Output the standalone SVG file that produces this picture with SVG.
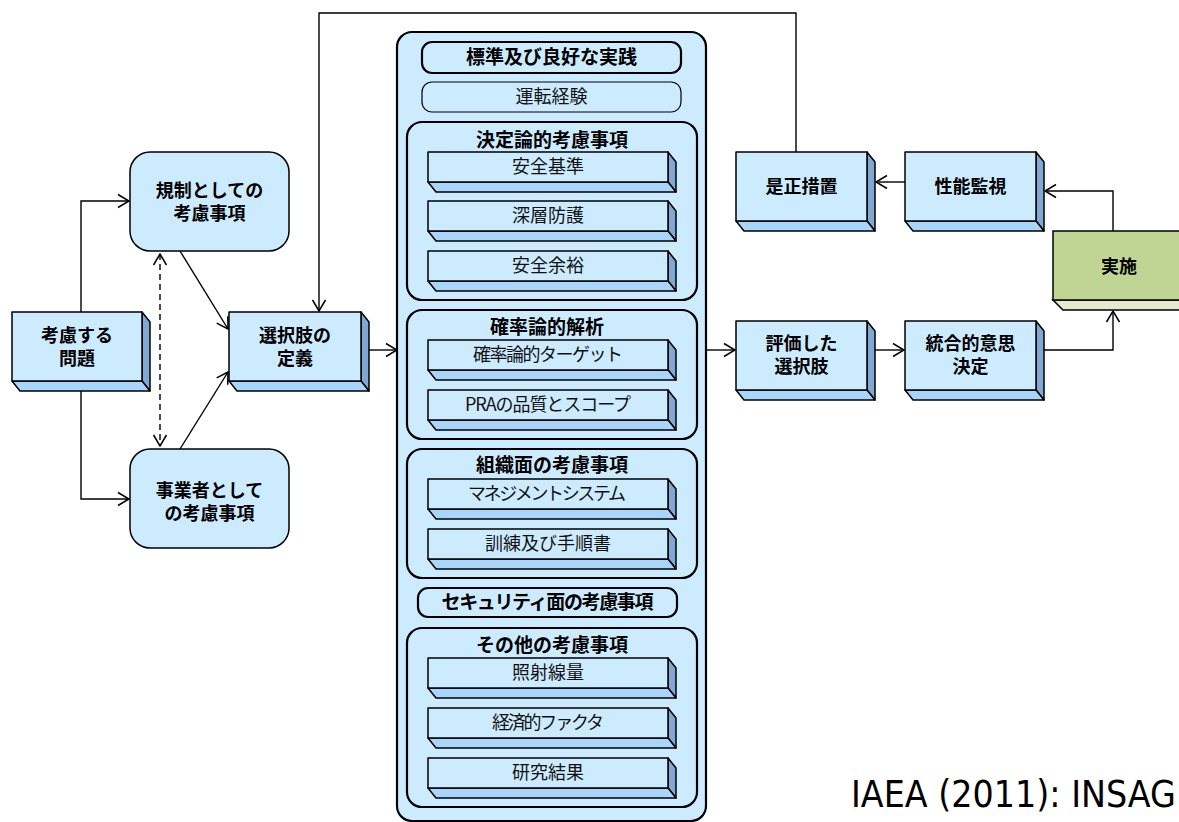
<svg xmlns="http://www.w3.org/2000/svg" width="1179" height="822" viewBox="0 0 1179 822">
  <defs>
    <style>
      .face { fill: #cdebff; stroke: #000; stroke-width: 1.5; stroke-linejoin: round; }
      .side { fill: #7fa8d2; stroke: #000; stroke-width: 1.5; stroke-linejoin: round; }
      .bottom { fill: #a9d5fa; stroke: #000; stroke-width: 1.5; stroke-linejoin: round; }
      .gface { fill: #c0d494; stroke: #000; stroke-width: 1.5; }
      .gbottom { fill: #e2ebd0; stroke: #000; stroke-width: 1.5; }
      .round { fill: #cdebff; stroke: #000; stroke-width: 1.5; }
      .panel { fill: #cdebff; stroke: #000; stroke-width: 2.2; }
      .label { font-family: "Noto Sans CJK JP", "Liberation Sans", sans-serif; font-size: 18px; font-weight: bold; fill: #000; text-anchor: middle; }
      .title { font-family: "Noto Sans CJK JP", "Liberation Sans", sans-serif; font-size: 19px; font-weight: bold; fill: #000; text-anchor: middle; }
      .item { font-family: "Noto Sans CJK JP", "Liberation Sans", sans-serif; font-size: 18px; fill: #111; text-anchor: middle; }
      .link { fill: none; stroke: #000; stroke-width: 1.4; }
      .dash { stroke-dasharray: 6 4; }
      .cite { font-family: "DejaVu Sans", sans-serif; font-size: 37px; fill: #000; }
    </style>
    <marker id="arrow" viewBox="-12 -8 13 16" markerWidth="13" markerHeight="16" refX="0" refY="0" orient="auto-start-reverse" markerUnits="userSpaceOnUse">
      <path d="M-11,-6.5 L0,0 L-11,6.5" fill="none" stroke="#000" stroke-width="1.5"/>
    </marker>
  </defs>
  <rect width="1179" height="822" fill="#fff"/>

  <!-- connectors -->
  <g id="connectors">
    <polyline class="link" points="81,312 81,201 129,201" marker-end="url(#arrow)"/>
    <polyline class="link" points="81,391 81,499 129,499" marker-end="url(#arrow)"/>
    <line class="link dash" x1="160" y1="254" x2="160" y2="446" marker-start="url(#arrow)" marker-end="url(#arrow)"/>
    <line class="link" x1="180" y1="251" x2="228" y2="329" marker-end="url(#arrow)"/>
    <line class="link" x1="180" y1="449" x2="228" y2="372" marker-end="url(#arrow)"/>
    <line class="link" x1="369" y1="350" x2="397" y2="350" marker-end="url(#arrow)"/>
    <polyline class="link" points="796,152 796,13 319,13 319,311" marker-end="url(#arrow)"/>
    <line class="link" x1="706" y1="350" x2="735" y2="350" marker-end="url(#arrow)"/>
    <line class="link" x1="875" y1="350" x2="904" y2="350" marker-end="url(#arrow)"/>
    <polyline class="link" points="1044,350 1113,350 1113,311" marker-end="url(#arrow)"/>
    <polyline class="link" points="1113,231 1113,191 1045,191" marker-end="url(#arrow)"/>
    <line class="link" x1="905" y1="182" x2="876" y2="182" marker-end="url(#arrow)"/>
  </g>

  <!-- issue to consider -->
  <g id="issue">
    <polygon class="side" points="142,312 150,322 150,391 142,381"/>
    <polygon class="bottom" points="12,381 142,381 150,391 20,391"/>
    <rect class="face" x="12" y="312" width="130" height="69"/>
    <text class="label" x="77" y="342">考慮する</text>
    <text class="label" x="77" y="365">問題</text>
  </g>

  <g id="regulatory">
    <rect class="round" x="130" y="152" width="159" height="99" rx="20"/>
    <text class="label" x="209.5" y="197">規制としての</text>
    <text class="label" x="209.5" y="220">考慮事項</text>
  </g>

  <g id="licensee">
    <rect class="round" x="130" y="449" width="159" height="99" rx="20"/>
    <text class="label" x="209.5" y="497">事業者として</text>
    <text class="label" x="209.5" y="520">の考慮事項</text>
  </g>

  <g id="define-options">
    <polygon class="side" points="361,312 369,322 369,391 361,381"/>
    <polygon class="bottom" points="229,381 361,381 369,391 237,391"/>
    <rect class="face" x="229" y="312" width="132" height="69"/>
    <text class="label" x="295" y="342">選択肢の</text>
    <text class="label" x="295" y="365">定義</text>
  </g>

  <!-- central panel of considerations -->
  <g id="considerations">
    <rect class="panel" x="397" y="32" width="309" height="789" rx="15"/>

    <g id="standards">
      <rect class="panel" x="422" y="42" width="259" height="31" rx="10"/>
      <text class="title" x="551.5" y="64">標準及び良好な実践</text>
    </g>
    <g id="experience">
      <rect class="round" x="422" y="82" width="259" height="30" rx="10" style="stroke-width:1.2"/>
      <text class="item" x="551.5" y="103">運転経験</text>
    </g>

    <g id="deterministic">
      <rect class="panel" x="407" y="122" width="290" height="178" rx="15"/>
      <text class="title" x="552" y="147">決定論的考慮事項</text>
      <g id="safety-standards">
        <polygon class="side" points="668,152 676,162 676,192 668,182"/>
        <polygon class="bottom" points="428,182 668,182 676,192 436,192"/>
        <rect class="face" x="428" y="152" width="240" height="30"/>
        <text class="item" x="548" y="173">安全基準</text>
      </g>
      <g id="defence-in-depth">
        <polygon class="side" points="668,201 676,211 676,241 668,231"/>
        <polygon class="bottom" points="428,231 668,231 676,241 436,241"/>
        <rect class="face" x="428" y="201" width="240" height="30"/>
        <text class="item" x="548" y="222">深層防護</text>
      </g>
      <g id="safety-margins">
        <polygon class="side" points="668,251 676,261 676,291 668,281"/>
        <polygon class="bottom" points="428,281 668,281 676,291 436,291"/>
        <rect class="face" x="428" y="251" width="240" height="30"/>
        <text class="item" x="548" y="272">安全余裕</text>
      </g>
    </g>

    <g id="probabilistic">
      <rect class="panel" x="407" y="310" width="290" height="129" rx="15"/>
      <text class="title" x="547" y="334">確率論的解析</text>
      <g id="prob-targets">
        <polygon class="side" points="668,340 676,350 676,380 668,370"/>
        <polygon class="bottom" points="428,370 668,370 676,380 436,380"/>
        <rect class="face" x="428" y="340" width="240" height="30"/>
        <text class="item" x="548" y="361" textLength="150">確率論的ターゲット</text>
      </g>
      <g id="pra-quality">
        <polygon class="side" points="668,390 676,400 676,430 668,420"/>
        <polygon class="bottom" points="428,420 668,420 676,430 436,430"/>
        <rect class="face" x="428" y="390" width="240" height="30"/>
        <text class="item" x="548" y="411" textLength="166">PRAの品質とスコープ</text>
      </g>
    </g>

    <g id="organisational">
      <rect class="panel" x="407" y="449" width="290" height="129" rx="15"/>
      <text class="title" x="552" y="472">組織面の考慮事項</text>
      <g id="management-system">
        <polygon class="side" points="668,479 676,489 676,519 668,509"/>
        <polygon class="bottom" points="428,509 668,509 676,519 436,519"/>
        <rect class="face" x="428" y="479" width="240" height="30"/>
        <text class="item" x="547" y="500" textLength="158">マネジメントシステム</text>
      </g>
      <g id="training">
        <polygon class="side" points="668,529 676,539 676,569 668,559"/>
        <polygon class="bottom" points="428,559 668,559 676,569 436,569"/>
        <rect class="face" x="428" y="529" width="240" height="30"/>
        <text class="item" x="548" y="550">訓練及び手順書</text>
      </g>
    </g>

    <g id="security">
      <rect class="panel" x="418" y="588" width="259" height="29" rx="10"/>
      <text class="title" x="547.5" y="609" textLength="212">セキュリティ面の考慮事項</text>
    </g>

    <g id="other">
      <rect class="panel" x="407" y="628" width="290" height="179" rx="15"/>
      <text class="title" x="552" y="652">その他の考慮事項</text>
      <g id="dose">
        <polygon class="side" points="668,658 676,668 676,698 668,688"/>
        <polygon class="bottom" points="428,688 668,688 676,698 436,698"/>
        <rect class="face" x="428" y="658" width="240" height="30"/>
        <text class="item" x="548" y="679">照射線量</text>
      </g>
      <g id="economic">
        <polygon class="side" points="668,708 676,718 676,748 668,738"/>
        <polygon class="bottom" points="428,738 668,738 676,748 436,748"/>
        <rect class="face" x="428" y="708" width="240" height="30"/>
        <text class="item" x="548" y="729" textLength="112">経済的ファクタ</text>
      </g>
      <g id="research">
        <polygon class="side" points="668,758 676,768 676,798 668,788"/>
        <polygon class="bottom" points="428,788 668,788 676,798 436,798"/>
        <rect class="face" x="428" y="758" width="240" height="30"/>
        <text class="item" x="548" y="779">研究結果</text>
      </g>
    </g>
  </g>

  <!-- right-hand decision chain -->
  <g id="evaluated-options">
    <polygon class="side" points="867,321 875,331 875,400 867,390"/>
    <polygon class="bottom" points="736,390 867,390 875,400 744,400"/>
    <rect class="face" x="736" y="321" width="131" height="69"/>
    <text class="label" x="801.5" y="350">評価した</text>
    <text class="label" x="801.5" y="373">選択肢</text>
  </g>

  <g id="integrated-decision">
    <polygon class="side" points="1036,321 1044,331 1044,400 1036,390"/>
    <polygon class="bottom" points="905,390 1036,390 1044,400 913,400"/>
    <rect class="face" x="905" y="321" width="131" height="69"/>
    <text class="label" x="970.5" y="350">統合的意思</text>
    <text class="label" x="970.5" y="373">決定</text>
  </g>

  <g id="implementation">
    <polygon class="gbottom" points="1053,300 1190,300 1198,310 1063,310"/>
    <rect class="gface" x="1053" y="231" width="135" height="69"/>
    <text class="label" x="1119" y="273">実施</text>
  </g>

  <g id="performance-monitoring">
    <polygon class="side" points="1036,152 1044,162 1044,231 1036,221"/>
    <polygon class="bottom" points="905,221 1036,221 1044,231 913,231"/>
    <rect class="face" x="905" y="152" width="131" height="69"/>
    <text class="label" x="970.5" y="193">性能監視</text>
  </g>

  <g id="corrective-action">
    <polygon class="side" points="867,152 875,162 875,231 867,221"/>
    <polygon class="bottom" points="736,221 867,221 875,231 744,231"/>
    <rect class="face" x="736" y="152" width="131" height="69"/>
    <text class="label" x="801.5" y="193">是正措置</text>
  </g>

  <text class="cite" x="851" y="807" textLength="325" lengthAdjust="spacingAndGlyphs">IAEA (2011): INSAG</text>
</svg>
